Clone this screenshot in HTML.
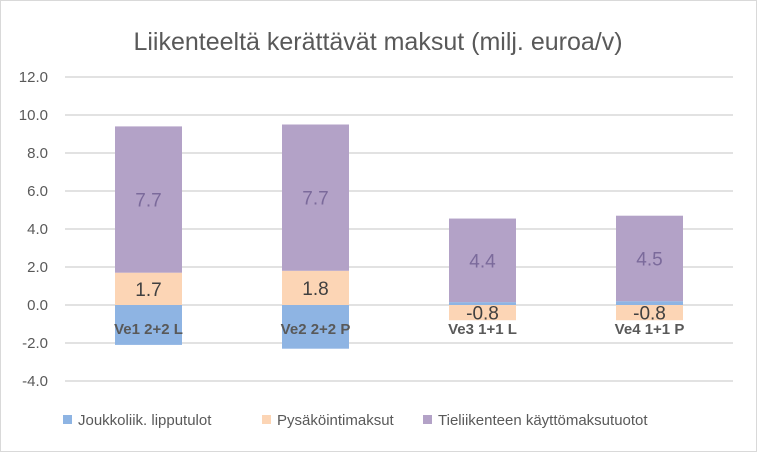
<!DOCTYPE html>
<html><head><meta charset="utf-8"><style>
body{margin:0;background:#fff}
svg{display:block;font-family:"Liberation Sans",Carlito,sans-serif}
</style></head><body>
<svg id="c" width="757" height="452">
<rect x="0.5" y="0.5" width="756" height="451" fill="#fff" stroke="#d9d9d9"/>
<text x="378" y="50" text-anchor="middle" font-size="25" fill="#595959">Liikenteeltä kerättävät maksut (milj. euroa/v)</text>
<g id="grid"></g><g id="bars"></g><g id="labels"></g>
<g>
<rect x="63" y="415" width="9" height="9" fill="#8eb4e3"/>
<text x="78" y="425" font-size="15" fill="#595959">Joukkoliik. lipputulot</text>
<rect x="262" y="415" width="9" height="9" fill="#fcd5b5"/>
<text x="277" y="425" font-size="15" fill="#595959">Pysäköintimaksut</text>
<rect x="423" y="415" width="9" height="9" fill="#b3a2c7"/>
<text x="438" y="425" font-size="15" fill="#595959">Tieliikenteen käyttömaksutuotot</text>
</g>
</svg>
<script>
const categories=["Ve1 2+2 L","Ve2 2+2 P","Ve3 1+1 L","Ve4 1+1 P"];
const joukkoliik=[-2.1,-2.3,0.15,0.2];
const pysakointi=[1.7,1.8,-0.8,-0.8];
const tieliikenne=[7.7,7.7,4.4,4.5];
const ticks=[12,10,8,6,4,2,0,-2,-4];
const NS="http://www.w3.org/2000/svg";
const y=v=>305-v*19;
const x0=65,cw=167,bw=67;
function el(t,a,p){const e=document.createElementNS(NS,t);for(const k in a)e.setAttribute(k,a[k]);document.getElementById(p).appendChild(e);return e;}
ticks.forEach(t=>{
 const l=el('line',{x1:x0,x2:733,y1:y(t),y2:y(t),stroke:'#d9d9d9','stroke-width':1.5},'grid');
 
 
 const tx=el('text',{x:48,y:y(t)+5,'text-anchor':'end','font-size':15,fill:'#595959'},'grid');
 tx.textContent=t.toFixed(1);
 
 
});
const series=[[joukkoliik,'#8eb4e3','joukkoliik',null],[pysakointi,'#fcd5b5','pysakointi','#404040'],[tieliikenne,'#b3a2c7','tieliikenne','#7b6a9b']];
categories.forEach((c,i)=>{
 const bx=x0+cw*i+(cw-bw)/2;
 let pos=0,neg=0;
 series.forEach(([arr,col,nm,lc])=>{
  const v=arr[i];let a,b;
  if(v>=0){a=pos;b=pos+v;pos=b;}else{a=neg;b=neg+v;neg=b;}
  const r=el('rect',{x:bx,y:Math.min(y(a),y(b)),width:bw,height:Math.abs(y(a)-y(b)),fill:col},'bars');
  
  
  if(lc){
   const t=el('text',{x:bx+bw/2,y:(y(a)+y(b))/2+7,'text-anchor':'middle','font-size':19,fill:lc},'labels');
   t.textContent=v.toFixed(1);
   
   
  }
 });
 const t=el('text',{x:bx+bw/2,y:334,'text-anchor':'middle','font-size':15,'font-weight':'bold',fill:'#595959'},'labels');
 t.textContent=c;
 
 
});
</script>
</body></html>
